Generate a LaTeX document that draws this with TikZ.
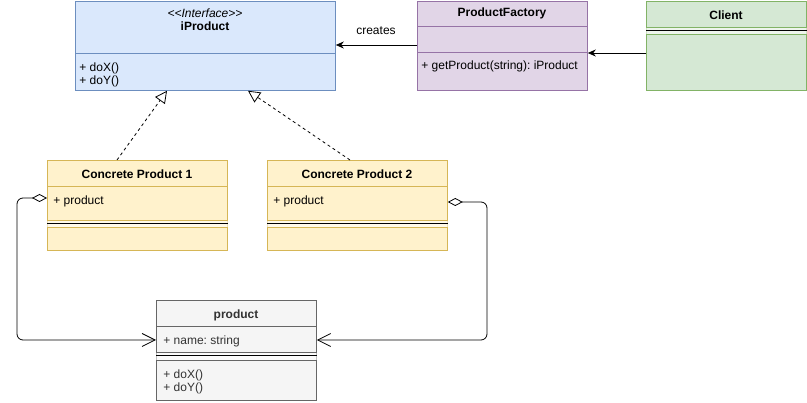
\documentclass[tikz,border=0pt]{standalone}
\usepackage{fontspec}
\setmainfont{Liberation Sans}
\usetikzlibrary{arrows.meta}
\definecolor{ipfill}{HTML}{DAE8FC}
\definecolor{ipline}{HTML}{6C8EBF}
\definecolor{pffill}{HTML}{E1D5E7}
\definecolor{pfline}{HTML}{9673A6}
\definecolor{clfill}{HTML}{D5E8D4}
\definecolor{clline}{HTML}{82B366}
\definecolor{cpfill}{HTML}{FFF2CC}
\definecolor{cpline}{HTML}{D6B656}
\definecolor{prfill}{HTML}{F5F5F5}
\definecolor{prline}{HTML}{666666}
\definecolor{prtext}{HTML}{333333}
\frenchspacing

\begin{document}
\begin{tikzpicture}[x=1pt,y=-1pt,font=\fontsize{12}{14}\selectfont,line width=0.8pt,
  box/.style={draw,rectangle,anchor=north west,inner sep=0pt},
  txt/.style={anchor=west,inner sep=0pt},
  ttl/.style={inner sep=0pt,font=\fontsize{12}{14}\selectfont\bfseries},
  dep/.style={dash pattern=on 3pt off 3pt,-{Triangle[open,length=12pt,width=12pt,fill=white]}},
  agg/.style={rounded corners=6pt,{Diamond[open,length=15pt,width=8pt]}-{Straight Barb[length=13pt,width=13pt]}},
  call/.style={-{Stealth[length=8pt,width=7pt]}}]
\useasboundingbox (0,0) rectangle (807,403);

% boxes
\node[box,fill=ipfill,draw=ipline,minimum width=260pt,minimum height=89pt](ip) at (75,1){};
\node[box,fill=pffill,draw=pfline,minimum width=170pt,minimum height=89pt](pf) at (417,1){};
\node[box,fill=clfill,draw=clline,minimum width=160pt,minimum height=89pt](cl) at (646,1){};
\node[box,fill=cpfill,draw=cpline,minimum width=180pt,minimum height=90pt](c1) at (47,160){};
\node[box,fill=cpfill,draw=cpline,minimum width=180pt,minimum height=90pt](c2) at (267,160){};
\node[box,fill=prfill,draw=prline,minimum width=160pt,minimum height=100pt](pr) at (156,300){};

% compartments
\draw[ipline] (ip.west |- 0,53) -- (ip.east |- 0,53);
\draw[pfline] (pf.west |- 0,26) -- (pf.east |- 0,26);
\draw[pfline] (pf.west |- 0,52) -- (pf.east |- 0,52);
\foreach \b/\c/\t/\m/\u in {cl/clline/27/30.5/34, c1/cpline/220/223.5/227, c2/cpline/220/223.5/227, pr/prline/352/356/360}{
  \fill[white,opacity=.6] (\b.west |- 0,\t) rectangle (\b.east |- 0,\u);
  \draw[\c] (\b.west |- 0,\t) -- (\b.east |- 0,\t);
  \draw[\c] (\b.west |- 0,\u) -- (\b.east |- 0,\u);
  \draw[black,line width=1pt] (\b.west |- 0,\m) -- (\b.east |- 0,\m);
}
\draw[cpline] (c1.west |- 0,186) -- (c1.east |- 0,186);
\draw[cpline] (c2.west |- 0,186) -- (c2.east |- 0,186);
\draw[prline] (pr.west |- 0,326) -- (pr.east |- 0,326);

% texts
\node[inner sep=0pt](ip1) at (205,13){\itshape <\kern0pt<Interface>\kern0pt>};
\node[ttl](ip2) at (205,26){iProduct};
\node[txt](ip3) at (79,68){+ doX()};
\node[txt](ip4) at (79,81){+ doY()};
\node[ttl](pf1) at (502,13){ProductFactory};
\node[txt](pf2) at (421,66){+ getProduct(string): iProduct};
\node[ttl](cl1) at (726,15){Client};
\node[ttl](c11) at (137,174){Concrete Product 1};
\node[txt](c12) at (53,201){+ product};
\node[ttl](c21) at (357,174){Concrete Product 2};
\node[txt](c22) at (273,201){+ product};
\node[ttl,text=prtext](pr1) at (236,315){product};
\node[txt,text=prtext](pr2) at (163,341){+ name: string};
\node[txt,text=prtext](pr3) at (163,375){+ doX()};
\node[txt,text=prtext](pr4) at (163,388){+ doY()};
\node[inner sep=0pt](cr) at (376,31){creates};

% connectors
\draw[call] (pf.west |- 0,45) -- (ip.east |- 0,45);
\draw[call] (cl.west |- 0,53) -- (pf.east |- 0,53);
\draw[dep] (c1.north -| 117,0) -- (ip.south -| 167,0);
\draw[dep] (c2.north -| 350,0) -- (ip.south -| 248,0);
\draw[agg] (c1.west |- 0,198) -| (17,340) -- (pr.west |- 0,340);
\draw[agg] (c2.east |- 0,202) -| (487,340) -- (pr.east |- 0,340);
\end{tikzpicture}
\end{document}
